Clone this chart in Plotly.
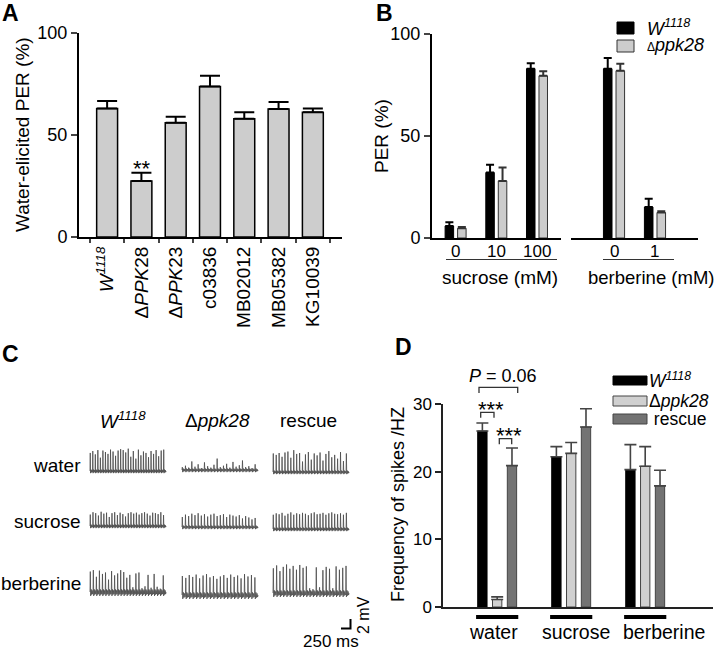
import plotly.graph_objects as go

# ---------------- data ----------------
# Panel A
A_CATS = ["W1118", "dPPK28", "dPPK23", "c03836", "MB02012", "MB05382", "KG10039"]
A_TICKTEXT = ["<i>W</i><sup><i>1118</i></sup>", "Δ<i>PPK</i>28", "Δ<i>PPK</i>23",
              "c03836", "MB02012", "MB05382", "KG10039"]
A_VALS = [63.0, 27.5, 56.0, 73.8, 58.0, 62.8, 61.1]
A_ERR = [3.7, 4.0, 3.0, 5.2, 3.2, 3.4, 1.9]

# Panel B
B_SUC_CATS = ["0", "10", "100"]
B_SUC_W = [5.9, 32.1, 83.0]
B_SUC_W_ERR = [1.8, 3.8, 2.7]
B_SUC_P = [4.8, 28.0, 79.5]
B_SUC_P_ERR = [0.6, 6.6, 2.3]
B_BER_CATS = ["0", "1"]
B_BER_W = [83.0, 15.2]
B_BER_W_ERR = [5.2, 4.1]
B_BER_P = [82.0, 12.5]
B_BER_P_ERR = [3.4, 0.6]
B_TICKS = [0, 50, 100]

# Panel C (spike heights in mV)
C_COLS = ["<i>W</i><sup><i>1118</i></sup>", "Δ<i>ppk28</i>", "rescue"]
C_ROWS = ["water", "sucrose", "berberine"]
C_WATER_W = [3.8, 4.2, 3.5, 4.4, 2.8, 4.3, 4.0, 3.6, 4.5, 4.1, 3.2, 4.3, 4.6, 4.4, 3.9,
             4.7, 3.0, 4.2, 2.6, 4.5, 3.3, 4.1, 3.8, 2.9, 4.2, 3.6, 4.4, 3.1, 4.3, 4.5]
C_WATER_P = [0.6, 0.9, 0.5, 1.8, 0.7, 1.2, 0.4, 1.6, 0.8, 0.5, 1.1, 2.4, 0.6, 0.9,
             1.3, 0.5, 1.7, 0.7, 1.0, 2.0, 0.6, 0.8, 0.4, 1.2]
C_WATER_R = [3.9, 3.6, 4.0, 3.2, 4.1, 4.3, 3.0, 4.6, 3.8, 4.0, 2.2, 3.7, 4.2, 2.6,
             3.9, 3.5, 4.1, 2.4, 3.8, 4.4, 3.1, 3.6, 2.8, 4.2, 2.3, 3.9]
C_SUC_W = [2.4, 2.9, 2.7, 2.2, 3.0, 2.6, 2.8, 1.9, 2.7, 2.9, 2.3, 2.8, 2.5, 2.0,
           2.7, 2.9, 2.6, 2.8, 2.4, 2.7, 2.9, 2.6, 2.2, 2.8, 2.7, 2.5, 2.9, 2.3]
C_SUC_P = [2.1, 2.6, 2.3, 2.8, 2.5, 2.9, 2.4, 2.7, 2.2, 2.6, 2.8, 2.3, 2.5, 2.7,
           2.1, 2.6, 2.4, 2.2, 2.5, 1.8, 2.3, 2.0, 1.6, 1.9]
C_SUC_R = [3.0, 3.3, 3.1, 3.4, 2.8, 3.2, 3.5, 3.0, 3.3, 3.1, 3.4, 3.2, 2.9, 3.3,
           3.5, 3.1, 3.2, 3.4, 3.0, 3.3, 3.5, 3.2, 3.1, 3.3, 3.0, 3.4]
C_BER_W = [4.3, 4.6, 3.2, 4.5, 3.8, 4.1, 2.6, 4.4, 3.5, 3.9, 4.6, 4.2, 3.0, 3.6,
           1.0, 3.9, 4.1, 0.8, 1.2, 3.6, 0.9, 3.8, 1.1, 0.7, 3.5]
C_BER_P = [4.0, 3.6, 4.2, 3.8, 4.3, 3.5, 4.1, 4.4, 3.7, 4.0, 3.4, 3.9, 4.2, 3.6,
           4.3, 3.8, 4.1, 3.5, 4.4, 3.9, 4.2, 3.7]
C_BER_R = [5.2, 5.8, 4.6, 5.5, 6.0, 5.1, 5.7, 4.9, 5.9, 5.3, 5.6, 1.0, 0.8, 5.4,
           1.2, 4.8, 5.5, 5.1, 1.0, 5.6, 4.9, 5.3, 5.7]
C_SCALE_MV = 2
C_SCALE_MS = 250

# Panel D
D_CATS = ["water", "sucrose", "berberine"]
D_NAMES = ["<i>W</i><sup><i>1118</i></sup>", "Δ<i>ppk28</i>", " rescue"]
D_W = [26.0, 22.2, 20.3]
D_W_ERR = [1.2, 1.5, 3.7]
D_P = [1.1, 22.7, 20.8]
D_P_ERR = [0.4, 1.6, 2.9]
D_R = [20.9, 26.6, 17.9]
D_R_ERR = [2.6, 2.7, 2.3]
D_TICKS = [0, 10, 20, 30]

# ---------------- helpers ----------------
W, H = 720, 651
FONT = "Liberation Sans, Arial, sans-serif"


def px(x):
    return x / W


def py(y):
    return 1 - y / H


fig = go.Figure()

# ---------------- Panel A ----------------
fig.add_trace(go.Bar(
    x=A_CATS, y=A_VALS, xaxis="x", yaxis="y", width=0.61,
    marker=dict(color="#cdcdcd", line=dict(color="black", width=1.5)),
    error_y=dict(type="data", symmetric=False, array=A_ERR, arrayminus=[0] * len(A_ERR),
                 color="black", thickness=2, width=10),
    hoverinfo="skip"))

# ---------------- Panel B ----------------
B_SLOT, B_BW = 0.307, 0.209
B_BLACK_OFF = -B_SLOT / 2 - B_BW / 2
B_GRAY_OFF = B_SLOT / 2 - B_BW / 2
for cats, vw, ew, vp, ep, xa in [(B_SUC_CATS, B_SUC_W, B_SUC_W_ERR, B_SUC_P, B_SUC_P_ERR, "x2"),
                                 (B_BER_CATS, B_BER_W, B_BER_W_ERR, B_BER_P, B_BER_P_ERR, "x3")]:
    fig.add_trace(go.Bar(
        x=cats, y=vw, xaxis=xa, yaxis="y2", width=B_BW, offset=B_BLACK_OFF,
        marker=dict(color="black", line=dict(color="black", width=1)),
        error_y=dict(type="data", symmetric=False, array=ew, arrayminus=[0] * len(ew),
                     color="black", thickness=2, width=4),
        hoverinfo="skip"))
    fig.add_trace(go.Bar(
        x=cats, y=vp, xaxis=xa, yaxis="y2", width=B_BW, offset=B_GRAY_OFF,
        marker=dict(color="#cccccc", line=dict(color="#333333", width=1)),
        error_y=dict(type="data", symmetric=False, array=ep, arrayminus=[0] * len(ep),
                     color="#333333", thickness=2, width=4),
        hoverinfo="skip"))

# ---------------- Panel D ----------------
D_SLOT, D_BW = 0.2, 0.126
D_COLORS = ["black", "#d0d0d0", "#737373"]
D_LINES = ["black", "#444444", "#444444"]
for k, (vals, errs) in enumerate([(D_W, D_W_ERR), (D_P, D_P_ERR), (D_R, D_R_ERR)]):
    fig.add_trace(go.Bar(
        x=D_CATS, y=vals, xaxis="x4", yaxis="y4", width=D_BW,
        offset=(k - 1) * D_SLOT - D_BW / 2,
        marker=dict(color=D_COLORS[k], line=dict(color=D_LINES[k], width=1)),
        error_y=dict(type="data", symmetric=False, array=errs, arrayminus=[0] * len(errs),
                     color="#444444", thickness=1.6, width=6),
        hoverinfo="skip"))

# ---------------- Panel C traces ----------------
C_X0 = [90, 182, 273]
C_TW = 76
C_BASE = [[471, 470, 472], [526, 527, 529], [592, 595, 593]]
MV_PX = 9.5 / C_SCALE_MV
MS_PX = 9.5 / C_SCALE_MS
WIGGLE = [0.3, 0.3, 0.55]
C_DATA = [[C_WATER_W, C_WATER_P, C_WATER_R],
          [C_SUC_W, C_SUC_P, C_SUC_R],
          [C_BER_W, C_BER_P, C_BER_R]]
SHAPE = [(0.0, 0.0, 0.0), (0.10, 1.0, 0.0), (0.22, 0.0, -1.5), (0.40, 0.0, 1.0),
         (0.55, 0.0, -1.0), (0.72, 0.0, 0.6), (0.88, 0.0, -0.8)]
for r in range(3):
    for c in range(3):
        hs = C_DATA[r][c]
        n = len(hs)
        dt = C_TW / n
        xs, ys = [], []
        for i, h in enumerate(hs):
            for (f, sp, wg) in SHAPE:
                xs.append(C_X0[c] + (i + f) * dt)
                ys.append(C_BASE[r][c] - (sp * h + wg * WIGGLE[r]) * MV_PX)
        xs.append(C_X0[c] + C_TW)
        ys.append(C_BASE[r][c])
        fig.add_trace(go.Scatter(x=xs, y=ys, mode="lines", xaxis="x5", yaxis="y5",
                                 line=dict(color="#4a4a4a", width=0.8), hoverinfo="skip"))

# scale bar
SB_X, SB_Y = 350.5, 628.5
fig.add_trace(go.Scatter(
    x=[SB_X - C_SCALE_MS * MS_PX, SB_X, SB_X], y=[SB_Y, SB_Y, SB_Y - C_SCALE_MV * MV_PX],
    mode="lines", xaxis="x5", yaxis="y5", line=dict(color="black", width=2), hoverinfo="skip"))


# ---------------- layout ----------------
def tf(size):
    return dict(family=FONT, size=size, color="black")


base = dict(showgrid=False, zeroline=False, automargin=False)

layout = dict(
    width=W, height=H, margin=dict(l=0, r=0, t=0, b=0, pad=0, autoexpand=False),
    paper_bgcolor="white", plot_bgcolor="white", showlegend=False,
    barmode="overlay", font=dict(family=FONT, color="black"),
    xaxis=dict(domain=[px(79), px(342)], anchor="y", type="category", range=[-0.82, 6.85],
               tickvals=A_CATS, ticktext=A_TICKTEXT, tickangle=-90, showline=True, linewidth=2,
               linecolor="black", ticks="outside", tickson="boundaries", ticklen=4, tickwidth=1.5,
               tickfont=tf(19), **base),
    yaxis=dict(domain=[py(237), py(33)], anchor="x", range=[0, 100], tickvals=B_TICKS,
               showline=True, linewidth=2, linecolor="black", ticks="outside", ticklen=6,
               tickwidth=2, tickfont=tf(18), **base),
    xaxis2=dict(domain=[px(432), px(561)], anchor="y2", type="category", range=[-0.58, 2.59],
                showline=True, linewidth=2, linecolor="black", ticks="", showticklabels=False,
                **base),
    xaxis3=dict(domain=[px(571), px(698)], anchor="y2", type="category", range=[-1.05, 2.05],
                showline=True, linewidth=2, linecolor="black", ticks="", showticklabels=False,
                **base),
    yaxis2=dict(domain=[py(238), py(34)], anchor="x2", range=[0, 100], tickvals=B_TICKS,
                showline=True, linewidth=2, linecolor="black", ticks="outside", ticklen=6,
                tickwidth=2, tickfont=tf(18), **base),
    xaxis4=dict(domain=[px(443), px(713)], anchor="y4", type="category", range=[-0.732, 2.916],
                showline=True, linewidth=1.5, linecolor="#222222", ticks="",
                showticklabels=False, **base),
    yaxis4=dict(domain=[py(607), py(404)], anchor="x4", range=[0, 30], tickvals=D_TICKS,
                showline=True, linewidth=1.5, linecolor="#222222", ticks="outside", ticklen=6,
                tickwidth=1.5, tickcolor="#222222", tickfont=tf(17), **base),
    xaxis5=dict(domain=[0, 0.5], anchor="y5", range=[0, 360], visible=False, automargin=False),
    yaxis5=dict(domain=[0, py(330)], anchor="x5", range=[651, 330], visible=False,
                automargin=False),
)

ann = []


def add_text(x, y, text, size, xanchor="center", angle=0, yanchor="middle",
             xref="paper"):
    ann.append(dict(x=px(x) if xref == "paper" else x, y=py(y), xref=xref, yref="paper",
                    text=text, showarrow=False, xanchor=xanchor, yanchor=yanchor,
                    textangle=angle, font=tf(size)))


# panel letters
for (lx, ly, lt) in [(0, 13, "A"), (374, 13, "B"), (0, 354, "C"), (393, 347, "D")]:
    add_text(lx, ly, "<b>%s</b>" % lt, 23, xanchor="left")

# axis titles
add_text(22, 135, "Water-elicited PER (%)", 19, angle=-90)
add_text(381, 136, "PER (%)", 19, angle=-90)
add_text(398, 505, "Frequency of spikes /HZ", 18, angle=-90)

# panel A significance
add_text(142, 168, "**", 22)

# panel B category labels (on the category axes)
for i, lab in enumerate(B_SUC_CATS):
    add_text(i, 251, lab, 17, xref="x2")
for i, lab in enumerate(B_BER_CATS):
    add_text(i, 251, lab, 17, xref="x3")
add_text(500, 277, "sucrose (mM)", 19)
add_text(651, 277, "berberine (mM)", 18.5)
add_text(645, 27, "<i>W</i><sup><i>1118</i></sup>", 18, xanchor="left")
add_text(645, 45, "<span style='font-size:12px'>Δ</span><i>ppk28</i>", 18, xanchor="left")

# panel C labels
for cx, ct in zip([123, 217, 308], C_COLS):
    add_text(cx, 420, ct, 19)
for ry, rt in zip([465, 521, 583], C_ROWS):
    add_text(83, ry, rt, 19, xanchor="right")
add_text(363, 615, "2 mV", 16, angle=-90)
add_text(331, 641, "250 ms", 17)

# panel D annotations
add_text(503.5, 376, "<i>P</i> = 0.06", 18)
add_text(491, 409, "***", 22)
add_text(509, 435, "***", 22)
for ly, name in zip([380, 401, 419], D_NAMES):
    add_text(647, ly, name, 17.5, xanchor="left")
for lx, lab in zip([493, 576, 664], D_CATS):
    add_text(lx, 632, lab, 19.5)

shapes = []


def rect(x0, y0, x1, y1, fill, line="black", lw=1):
    shapes.append(dict(type="rect", xref="paper", yref="paper", x0=px(x0), x1=px(x1),
                       y0=py(y0), y1=py(y1), fillcolor=fill, line=dict(color=line, width=lw)))


def bracket(x0, x1, ytop, ybot, lw=1.3):
    shapes.append(dict(type="path", xref="paper", yref="paper",
                       path="M %f,%f L %f,%f L %f,%f L %f,%f" % (
                           px(x0), py(ybot), px(x0), py(ytop), px(x1), py(ytop), px(x1), py(ybot)),
                       line=dict(color="#333333", width=lw)))


# B underlines
for x0, x1 in [(446, 557), (603, 674)]:
    shapes.append(dict(type="line", xref="paper", yref="paper", x0=px(x0), x1=px(x1),
                       y0=py(259.5), y1=py(259.5), line=dict(color="#333333", width=1.2)))
# B legend
rect(617, 22, 634, 34, "black", "black")
rect(617, 40, 634, 52, "#cccccc", "#333333")

# D legend
rect(613, 376, 647, 385, "black", "black")
rect(613, 396, 647, 406, "#d0d0d0", "#444444")
rect(613, 414, 647, 424, "#737373", "#444444")

# D brackets
bracket(480.7, 494, 412.3, 417.7)
bracket(499.3, 511.7, 438.7, 444.3)
bracket(479, 517.7, 387.3, 393)

# D group underbars
for i in range(len(D_CATS)):
    shapes.append(dict(type="rect", xref="x4", yref="paper", x0=i - 0.285, x1=i + 0.285,
                       y0=py(619), y1=py(615), fillcolor="black", line=dict(width=0)))

layout["annotations"] = ann
layout["shapes"] = shapes
fig.update_layout(**layout)

fig.write_html("out.html", config={"displayModeBar": False},
               post_script="document.body.style.margin='0px';document.body.style.overflow='hidden';")
